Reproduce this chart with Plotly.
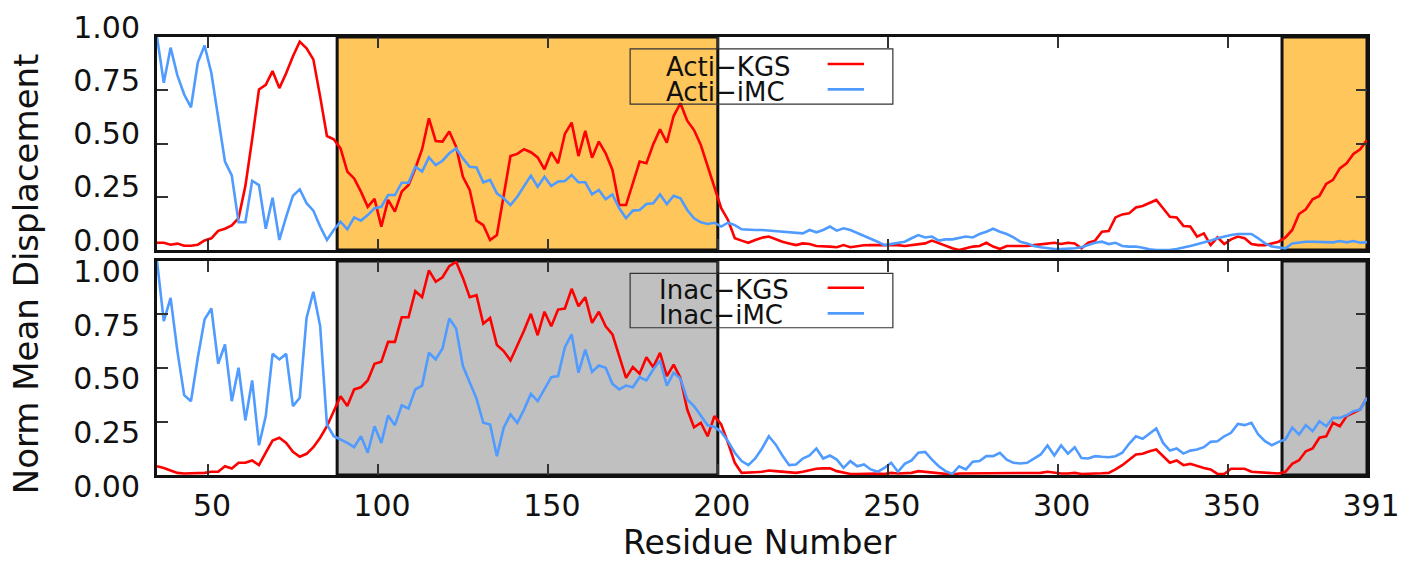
import plotly.graph_objects as go

# Residue numbers (every second residue)
residues = list(range(35, 392, 2))

acti_kgs = [
    0.034, 0.034, 0.025, 0.030, 0.020, 0.020, 0.025, 0.045, 0.055, 0.090,
    0.100, 0.115, 0.150, 0.300, 0.520, 0.754, 0.775, 0.840, 0.760, 0.830,
    0.910, 0.978, 0.947, 0.895, 0.720, 0.535, 0.520, 0.477, 0.368, 0.336,
    0.274, 0.203, 0.240, 0.110, 0.235, 0.180, 0.274, 0.305, 0.383, 0.473,
    0.618, 0.512, 0.509, 0.556, 0.485, 0.344, 0.282, 0.138, 0.117, 0.047,
    0.070, 0.266, 0.441, 0.451, 0.473, 0.459, 0.435, 0.379, 0.459, 0.407,
    0.545, 0.598, 0.441, 0.559, 0.433, 0.509, 0.454, 0.376, 0.211, 0.211,
    0.313, 0.415, 0.407, 0.496, 0.567, 0.504, 0.629, 0.689, 0.607, 0.563,
    0.493, 0.391, 0.297, 0.196, 0.141, 0.055, 0.044, 0.034, 0.047, 0.058,
    0.063, 0.050, 0.039, 0.031, 0.023, 0.031, 0.028, 0.019, 0.019, 0.016,
    0.013, 0.023, 0.013, 0.019, 0.022, 0.023, 0.023, 0.023, 0.023, 0.023,
    0.019, 0.023, 0.027, 0.031, 0.044, 0.031, 0.019, 0.008, 0.000, 0.008,
    0.016, 0.019, 0.034, 0.016, 0.005, 0.019, 0.019, 0.019, 0.019, 0.023,
    0.027, 0.031, 0.034, 0.028, 0.034, 0.031, 0.008, 0.034, 0.044, 0.086,
    0.089, 0.153, 0.167, 0.172, 0.200, 0.207, 0.222, 0.235, 0.196, 0.156,
    0.153, 0.113, 0.110, 0.063, 0.078, 0.023, 0.059, 0.028, 0.050, 0.063,
    0.055, 0.028, 0.023, 0.023, 0.031, 0.039, 0.059, 0.094, 0.169, 0.191,
    0.238, 0.254, 0.310, 0.329, 0.383, 0.407, 0.451, 0.473, 0.516,
]

acti_imc = [
    1.000, 0.785, 0.950, 0.820, 0.730, 0.670, 0.880, 0.960, 0.830, 0.630,
    0.415, 0.350, 0.130, 0.130, 0.325, 0.305, 0.100, 0.245, 0.047, 0.156,
    0.255, 0.285, 0.220, 0.185, 0.110, 0.047, 0.094, 0.133, 0.097, 0.153,
    0.138, 0.164, 0.196, 0.203, 0.258, 0.258, 0.316, 0.316, 0.391, 0.368,
    0.435, 0.399, 0.419, 0.454, 0.477, 0.430, 0.391, 0.388, 0.318, 0.329,
    0.266, 0.243, 0.211, 0.250, 0.297, 0.349, 0.297, 0.344, 0.300, 0.321,
    0.324, 0.352, 0.318, 0.318, 0.261, 0.282, 0.238, 0.261, 0.196, 0.149,
    0.185, 0.188, 0.216, 0.219, 0.261, 0.216, 0.255, 0.243, 0.188, 0.149,
    0.130, 0.122, 0.128, 0.110, 0.128, 0.117, 0.097, 0.094, 0.094, 0.094,
    0.091, 0.091, 0.086, 0.083, 0.081, 0.078, 0.094, 0.083, 0.094, 0.110,
    0.091, 0.102, 0.094, 0.081, 0.066, 0.055, 0.039, 0.023, 0.028, 0.031,
    0.039, 0.055, 0.070, 0.059, 0.063, 0.044, 0.050, 0.050, 0.055, 0.063,
    0.059, 0.075, 0.086, 0.100, 0.086, 0.075, 0.059, 0.039, 0.031, 0.019,
    0.013, 0.008, 0.005, 0.005, 0.005, 0.008, 0.013, 0.023, 0.034, 0.039,
    0.028, 0.034, 0.019, 0.016, 0.016, 0.011, 0.003, 0.000, 0.000, 0.000,
    0.005, 0.011, 0.019, 0.027, 0.034, 0.044, 0.055, 0.063, 0.070, 0.075,
    0.075, 0.075, 0.055, 0.031, 0.016, 0.013, 0.008, 0.031, 0.036, 0.039,
    0.039, 0.039, 0.039, 0.036, 0.042, 0.036, 0.042, 0.034, 0.037,
]

inac_kgs = [
    0.041, 0.033, 0.021, 0.010, 0.007, 0.007, 0.007, 0.010, 0.015, 0.015,
    0.041, 0.030, 0.057, 0.057, 0.068, 0.046, 0.104, 0.161, 0.174, 0.150,
    0.108, 0.085, 0.099, 0.130, 0.174, 0.228, 0.298, 0.368, 0.322, 0.400,
    0.410, 0.442, 0.520, 0.529, 0.622, 0.622, 0.737, 0.737, 0.859, 0.831,
    0.956, 0.903, 0.924, 0.976, 0.996, 0.921, 0.831, 0.840, 0.707, 0.734,
    0.607, 0.579, 0.535, 0.602, 0.675, 0.753, 0.653, 0.763, 0.695, 0.773,
    0.778, 0.870, 0.789, 0.831, 0.711, 0.763, 0.695, 0.657, 0.555, 0.454,
    0.504, 0.473, 0.550, 0.504, 0.571, 0.462, 0.516, 0.454, 0.306, 0.223,
    0.244, 0.181, 0.275, 0.236, 0.150, 0.057, 0.010, 0.010, 0.013, 0.015,
    0.021, 0.018, 0.015, 0.010, 0.010, 0.015, 0.021, 0.029, 0.031, 0.031,
    0.018, 0.010, 0.005, 0.005, 0.006, 0.006, 0.007, 0.005, 0.010, 0.007,
    0.007, 0.010, 0.018, 0.015, 0.010, 0.007, 0.005, 0.002, 0.007, 0.007,
    0.007, 0.007, 0.007, 0.007, 0.007, 0.007, 0.007, 0.007, 0.007, 0.010,
    0.010, 0.015, 0.010, 0.007, 0.007, 0.010, 0.005, 0.005, 0.007, 0.008,
    0.010, 0.026, 0.046, 0.072, 0.096, 0.099, 0.111, 0.119, 0.088, 0.057,
    0.068, 0.046, 0.052, 0.041, 0.033, 0.026, 0.005, 0.005, 0.029, 0.029,
    0.029, 0.015, 0.013, 0.013, 0.010, 0.007, 0.015, 0.052, 0.069, 0.111,
    0.124, 0.174, 0.181, 0.244, 0.228, 0.275, 0.291, 0.306, 0.361,
]

inac_imc = [
    1.000, 0.719, 0.828, 0.579, 0.373, 0.345, 0.548, 0.727, 0.778, 0.520,
    0.610, 0.345, 0.501, 0.255, 0.442, 0.139, 0.275, 0.566, 0.540, 0.566,
    0.322, 0.361, 0.734, 0.856, 0.696, 0.236, 0.181, 0.166, 0.150, 0.130,
    0.181, 0.104, 0.228, 0.150, 0.278, 0.233, 0.326, 0.311, 0.400, 0.418,
    0.571, 0.540, 0.591, 0.731, 0.685, 0.509, 0.431, 0.357, 0.244, 0.236,
    0.088, 0.221, 0.283, 0.244, 0.306, 0.379, 0.345, 0.400, 0.457, 0.462,
    0.597, 0.657, 0.478, 0.586, 0.482, 0.512, 0.501, 0.426, 0.400, 0.418,
    0.410, 0.457, 0.442, 0.493, 0.535, 0.418, 0.478, 0.451, 0.353, 0.322,
    0.279, 0.232, 0.225, 0.201, 0.158, 0.104, 0.065, 0.046, 0.077, 0.124,
    0.181, 0.143, 0.091, 0.046, 0.049, 0.077, 0.091, 0.124, 0.077, 0.091,
    0.072, 0.033, 0.065, 0.041, 0.049, 0.026, 0.015, 0.033, 0.057, 0.015,
    0.052, 0.068, 0.104, 0.108, 0.072, 0.041, 0.018, 0.005, 0.041, 0.026,
    0.062, 0.065, 0.088, 0.088, 0.104, 0.072, 0.057, 0.054, 0.057, 0.077,
    0.096, 0.138, 0.091, 0.138, 0.100, 0.130, 0.079, 0.077, 0.088, 0.085,
    0.083, 0.088, 0.104, 0.146, 0.181, 0.169, 0.193, 0.217, 0.150, 0.114,
    0.124, 0.100, 0.114, 0.119, 0.130, 0.155, 0.158, 0.181, 0.197, 0.239,
    0.233, 0.244, 0.189, 0.158, 0.139, 0.155, 0.166, 0.221, 0.189, 0.233,
    0.205, 0.251, 0.228, 0.267, 0.267, 0.279, 0.298, 0.306, 0.361,
]

x_ticks = [50, 100, 150, 200, 250, 300, 350, 391]
y_ticks = [0.0, 0.25, 0.5, 0.75, 1.0]
y_tick_text = ["0.00", "0.25", "0.50", "0.75", "1.00"]
regions = [(88, 200), (366, 391)]
top_labels = ["Acti\u2212KGS", "Acti\u2212iMC"]
bot_labels = ["Inac\u2212KGS", "Inac\u2212iMC"]

RED = "#ff0000"
BLUE = "#4f9bff"
ORANGE = "#ffc65c"
GRAY = "#c0c0c0"
FONT = "DejaVu Sans"

fig = go.Figure()
fig.add_trace(go.Scatter(x=residues, y=acti_kgs, mode="lines", line=dict(color=RED, width=2.6),
                         xaxis="x", yaxis="y", showlegend=False))
fig.add_trace(go.Scatter(x=residues, y=acti_imc, mode="lines", line=dict(color=BLUE, width=2.6),
                         xaxis="x", yaxis="y", showlegend=False))
fig.add_trace(go.Scatter(x=residues, y=inac_kgs, mode="lines", line=dict(color=RED, width=2.6),
                         xaxis="x2", yaxis="y2", showlegend=False))
fig.add_trace(go.Scatter(x=residues, y=inac_imc, mode="lines", line=dict(color=BLUE, width=2.6),
                         xaxis="x2", yaxis="y2", showlegend=False))

shapes = []
for (a, b) in regions:
    shapes.append(dict(type="rect", xref="x", yref="y", x0=a, x1=b, y0=0, y1=1,
                       fillcolor=ORANGE, line=dict(color="#111", width=3), layer="below"))
    shapes.append(dict(type="rect", xref="x2", yref="y2", x0=a, x1=b, y0=0, y1=1,
                       fillcolor=GRAY, line=dict(color="#111", width=3), layer="below"))

annotations = []
# legend boxes (text followed by line sample)
for xr, yr, labels, box, tx, ty, ly in [
    ("x", "y", top_labels, (174.2, 251.5, 0.685, 0.944), 184.3, (0.858, 0.741), (0.873, 0.754)),
    ("x2", "y2", bot_labels, (174.2, 251.5, 0.688, 0.942), 182.2, (0.864, 0.747), (0.875, 0.755)),
]:
    shapes.append(dict(type="rect", xref=xr, yref=yr, x0=box[0], x1=box[1], y0=box[2], y1=box[3],
                       line=dict(color="#333", width=1.2), fillcolor="rgba(0,0,0,0)", layer="above"))
    for lab, yy, lyy, col in zip(labels, ty, ly, [RED, BLUE]):
        annotations.append(dict(xref=xr, yref=yr, x=tx, y=yy, text=lab, showarrow=False,
                                xanchor="left", yanchor="middle",
                                font=dict(family=FONT, size=26, color="#111")))
        shapes.append(dict(type="line", xref=xr, yref=yr, x0=232.3, x1=243.0, y0=lyy, y1=lyy,
                           line=dict(color=col, width=2.6), layer="above"))

annotations.append(dict(xref="paper", yref="paper", x=0.498, y=-0.203, text="Residue Number",
                        showarrow=False, xanchor="center", yanchor="bottom",
                        font=dict(family=FONT, size=33, color="#111")))
annotations.append(dict(xref="paper", yref="paper", x=-0.108, y=0.459, text="Norm Mean Displacement",
                        showarrow=False, xanchor="center", yanchor="middle", textangle=-90,
                        font=dict(family=FONT, size=34, color="#111")))

xcommon = dict(range=[35, 391], tickvals=x_ticks, ticks="inside", ticklen=11, tickwidth=1.5,
               tickcolor="#333", showline=True, linewidth=3, linecolor="#111", mirror="ticks",
               showgrid=False, zeroline=False, automargin=False,
               tickfont=dict(family=FONT, size=30, color="#111"))
ycommon = dict(range=[0, 1], tickvals=y_ticks, ticktext=y_tick_text, ticks="inside", ticklen=11,
               tickwidth=1.5, tickcolor="#333", showline=True, linewidth=3, linecolor="#111",
               mirror="ticks", showgrid=False, zeroline=False, ticklabelstandoff=8,
               automargin=False,
               tickfont=dict(family=FONT, size=30, color="#111"))

fig.update_layout(
    width=1403, height=564,
    margin=dict(l=157, r=36, t=37, b=89, autoexpand=False),
    paper_bgcolor="white", plot_bgcolor="white",
    xaxis=dict(anchor="y", showticklabels=False, **xcommon),
    yaxis=dict(anchor="x", domain=[0.5137, 1.0], ticklabelshift=-10, **ycommon),
    xaxis2=dict(anchor="y2", matches="x", ticklabelstandoff=2, ticklabelshift=4, **xcommon),
    yaxis2=dict(anchor="x2", domain=[0.0, 0.4886], ticklabelshift=11, **ycommon),
    shapes=shapes,
    annotations=annotations,
    showlegend=False,
)

fig.write_html("out.html")
